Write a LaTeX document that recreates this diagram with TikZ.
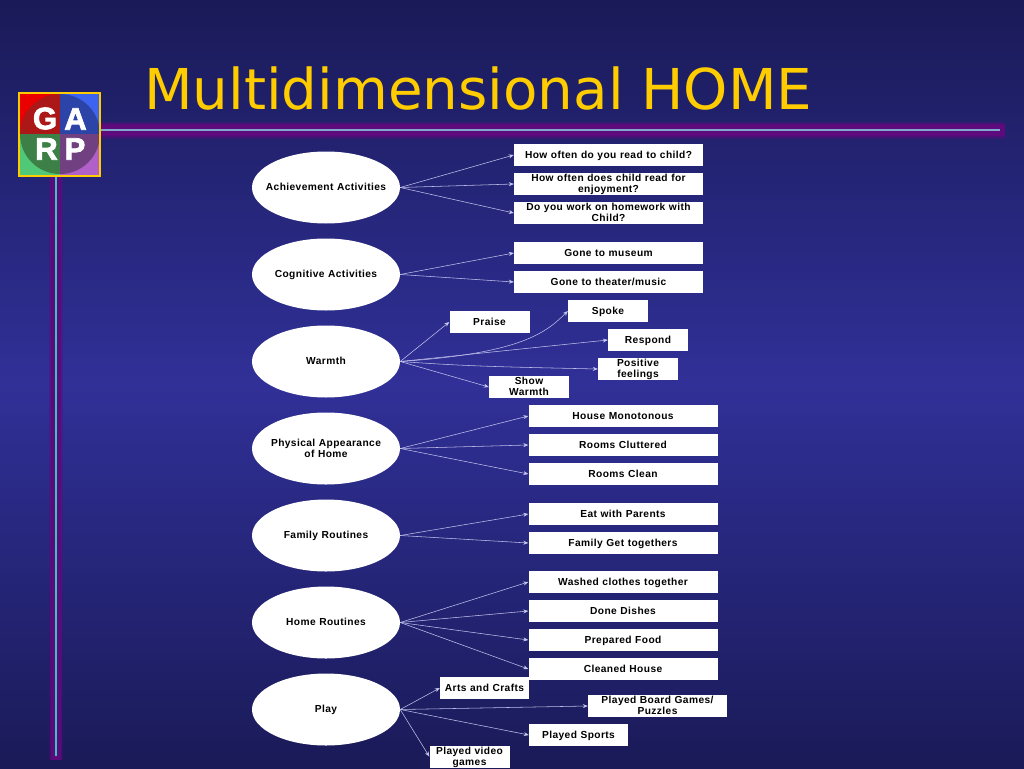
\documentclass[tikz,border=0pt]{standalone}
\usepackage{fontspec}
\setmainfont{Liberation Sans}
\newfontfamily\titlefont{DejaVu Sans}
\newfontfamily\labelfont[LetterSpace=4,WordSpace=1.1]{Liberation Sans Bold}
\newfontfamily\logofont[FakeBold=2.5]{Liberation Sans Bold}
\usetikzlibrary{shapes.geometric,arrows.meta,calc}
\definecolor{bgedge}{HTML}{1A1A58}
\definecolor{bgmid}{HTML}{303098}
\definecolor{glow}{HTML}{5E0A7C}
\definecolor{titlegold}{HTML}{FFCC00}
\definecolor{hline}{HTML}{80A8CC}
\definecolor{vline}{HTML}{30C8C0}
\definecolor{conn}{HTML}{C0C0EC}
\newcommand\topstrut{\rule{0pt}{10.2pt}}
\newcommand\botstrut{\rule[-3.4pt]{0pt}{3.4pt}}
\tikzset{
  topic/.style={ellipse,fill=white,minimum width=148pt,minimum height=72pt,inner xsep=-22pt,inner ysep=0pt,align=center,
    font=\labelfont\fontsize{10.2}{11}\selectfont,text=black,execute at begin node=\topstrut,execute at end node=\botstrut},
  leaf/.style={rectangle,fill=white,minimum height=22pt,inner xsep=0pt,inner ysep=-3pt,align=center,
    font=\labelfont\fontsize{10.2}{11}\selectfont,text=black,execute at begin node=\topstrut,execute at end node=\botstrut},
  dbl/.style={text height=20.6pt,text depth=3.4pt,inner ysep=-3pt,execute at begin node={},execute at end node={}},
  wa/.style={leaf,minimum width=189pt},
  wb/.style={leaf,minimum width=80pt},
  logoletter/.style={font=\logofont\fontsize{31}{31}\selectfont,text=white,inner sep=0pt},
  link/.style={draw=conn,line width=0.55pt,-{Stealth[length=5pt,width=4pt,fill=white]}},
}
\begin{document}
\begin{tikzpicture}[x=1pt,y=-1pt]
\useasboundingbox (0,0) rectangle (1024,768);
\shade[top color=bgedge,bottom color=bgmid,shading angle=0] (0,0) rectangle (1024,384);
\shade[top color=bgmid,bottom color=bgedge,shading angle=0] (0,384) rectangle (1024,768);
% glowing bars
\foreach \w/\o in {17/0.25,15/0.5,12/0.8,9/1}{
  \draw[glow,line width=\w pt,opacity=\o] (101,130) -- (1005,130);
}
\foreach \w/\o in {14/0.25,12/0.5,10/0.8,8/1}{
  \draw[glow,line width=\w pt,opacity=\o] (55.5,177) -- (55.5,760);
}
\draw[hline,line width=2pt] (101,130) -- (1000,130);
\draw[vline,line width=2pt] (55.5,177) -- (55.5,756);
% logo
\fill[fill=red!92!black] (19,93) rectangle (60,134);
\fill[fill={rgb,255:red,60;green,100;blue,240}] (60,93) rectangle (100,134);
\fill[fill={rgb,255:red,80;green,200;blue,120}] (19,134) rectangle (60,176);
\fill[fill={rgb,255:red,176;green,96;blue,200}] (60,134) rectangle (100,176);
\begin{scope}
\clip (60,134) circle (40);
\fill[fill={rgb,255:red,172;green,24;blue,24}] (19,93) rectangle (60,134);
\fill[fill={rgb,255:red,44;green,68;blue,168}] (60,93) rectangle (100,134);
\fill[fill={rgb,255:red,60;green,128;blue,72}] (19,134) rectangle (60,176);
\fill[fill={rgb,255:red,112;green,64;blue,128}] (60,134) rectangle (100,176);
\end{scope}
\draw[titlegold,line width=1.6pt] (19,93) rectangle (100,176);
\node[logoletter] (lg) at (45,118.5) {G};
\node[logoletter] (la) at (75.5,119) {A};
\node[logoletter] (lr) at (46.5,149) {R};
\node[logoletter] (lp) at (75,149) {P};
% title
\node[font=\titlefont\fontsize{56.3}{58}\selectfont,text=titlegold,inner sep=0pt,anchor=base west] (title) at (144,109) {Multidimensional HOME};
% topics
\node[topic] (t1) at (326,187.5) {Achievement Activities};
\node[topic] (t2) at (326,274.5) {Cognitive Activities};
\node[topic] (t3) at (326,361.5) {Warmth};
\node[topic,dbl,inner ysep=0pt] (t4) at (326,448.5) {Physical Appearance\\of Home};
\node[topic] (t5) at (326,535.5) {Family Routines};
\node[topic] (t6) at (326,622.5) {Home Routines};
\node[topic] (t7) at (326,709.5) {Play};
% leaves
\node[wa] (a1) at (608.5,155) {How often do you read to child?};
\node[wa,dbl] (a2) at (608.5,184) {How often does child read for\\enjoyment?};
\node[wa,dbl] (a3) at (608.5,213) {Do you work on homework with\\Child?};
\node[wa] (c1) at (608.5,253) {Gone to museum};
\node[wa] (c2) at (608.5,282) {Gone to theater/music};
\node[wb] (w1) at (489.5,322) {Praise};
\node[wb] (w2) at (608,311) {Spoke};
\node[wb] (w3) at (648,340) {Respond};
\node[wb,dbl] (w4) at (638,369) {Positive\\feelings};
\node[wb,dbl] (w5) at (529,387) {Show\\Warmth};
\node[wa] (p1) at (623,416) {House Monotonous};
\node[wa] (p2) at (623,445) {Rooms Cluttered};
\node[wa] (p3) at (623,474) {Rooms Clean};
\node[wa] (f1) at (623,514) {Eat with Parents};
\node[wa] (f2) at (623,543) {Family Get togethers};
\node[wa] (h1) at (623,582) {Washed clothes together};
\node[wa] (h2) at (623,611) {Done Dishes};
\node[wa] (h3) at (623,640) {Prepared Food};
\node[wa] (h4) at (623,669) {Cleaned House};
\node[leaf,minimum width=89pt] (l1) at (484.5,688) {Arts and Crafts};
\node[leaf,dbl,minimum width=139pt] (l2) at (657.5,706) {Played Board Games/\\Puzzles};
\node[leaf,minimum width=99pt] (l3) at (578.5,735) {Played Sports};
\node[wb,dbl] (l4) at (469.5,756.5) {Played video\\games};
% connectors
\foreach \a/\b in {t1/a1,t1/a2,t1/a3,t2/c1,t2/c2,t3/w1,t3/w3,t3/w5,t4/p1,t4/p2,t4/p3,t5/f1,t5/f2,t6/h1,t6/h2,t6/h3,t6/h4,t7/l1,t7/l2,t7/l3,t7/l4}
  \draw[link] (\a.east) -- (\b.west);
\draw[link] (t3.east) .. controls +(120,-8) and +(-22,22) .. (w2.west);
\draw[link] (t3.east) .. controls +(70,5) and +(-90,-2) .. (w4.west);
\end{tikzpicture}
\end{document}
